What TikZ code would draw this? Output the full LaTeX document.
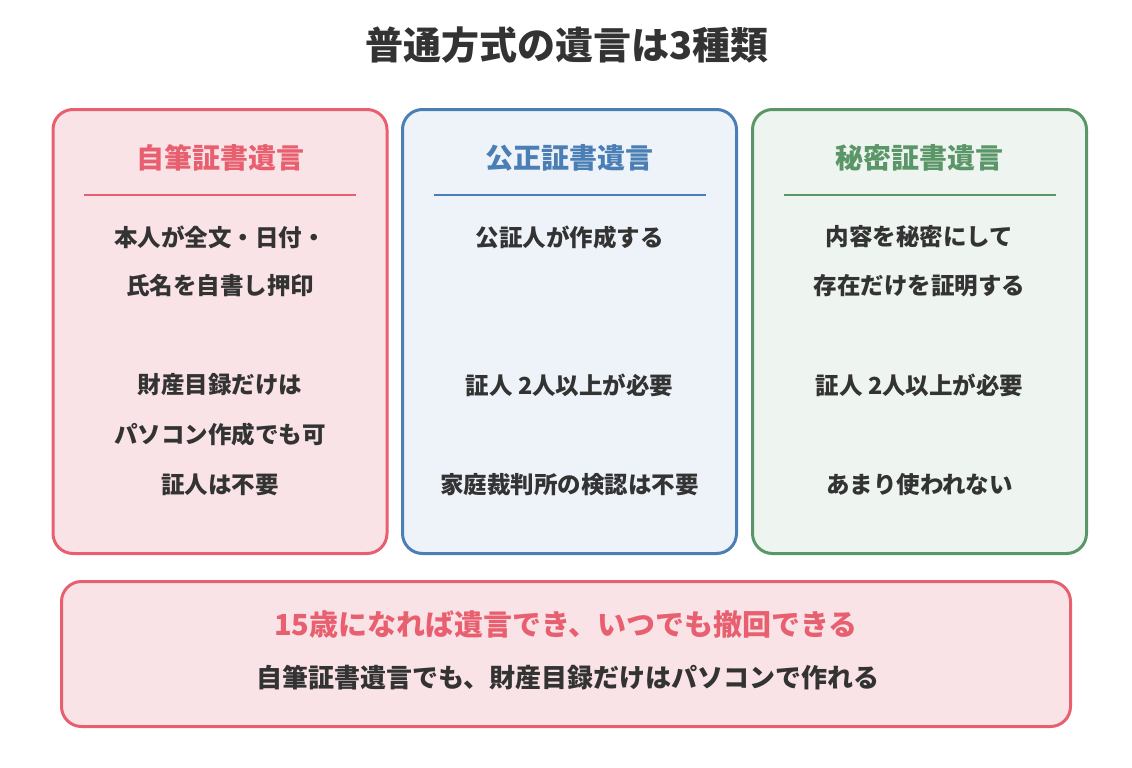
\documentclass[tikz,border=0pt]{standalone}
\usepackage{fontspec}
\setmainfont{Noto Sans CJK JP}
\definecolor{redline}{HTML}{E8606F}
\definecolor{redfill}{HTML}{FAE3E7}
\definecolor{blueline}{HTML}{4A7EB4}
\definecolor{bluefill}{HTML}{EEF3FA}
\definecolor{greenline}{HTML}{5B9669}
\definecolor{greenfill}{HTML}{EEF5F0}
\definecolor{ink}{HTML}{333333}
\begin{document}
\begin{tikzpicture}[x=1pt, y=-1pt,
  card/.style={draw, line width=3pt, rounded corners=20pt, minimum width=334pt, minimum height=444pt, inner sep=0pt},
  head/.style={font=\fontsize{28}{28}\selectfont\bfseries},
  body/.style={font=\fontsize{23.5}{24}\selectfont\bfseries, text=ink},
  rule/.style={line width=2.5pt}]
  \useasboundingbox (0,0) rectangle (1132,768);

  \node[font=\fontsize{38}{38}\selectfont\bfseries, text=ink] (title) at (567,45) {普通方式の遺言は3種類};

  \node[card, draw=redline, fill=redfill] (jihitsu) at (220,331.5) {};
  \node[card, draw=blueline, fill=bluefill] (kosei) at (569.5,331.5) {};
  \node[card, draw=greenline, fill=greenfill] (himitsu) at (919.5,331.5) {};

  \node[head, text=redline] (jhead) at (220,158) {自筆証書遺言};
  \node[head, text=blueline] (khead) at (569.5,158) {公正証書遺言};
  \node[head, text=greenline] (hhead) at (919.5,158) {秘密証書遺言};

  \coordinate (jl) at (84,195);   \coordinate (jr) at (356,195);
  \coordinate (kl) at (433.5,195); \coordinate (kr) at (705.5,195);
  \coordinate (hl) at (783.5,195); \coordinate (hr) at (1055.5,195);
  \draw[rule, redline] (jl) -- (jr);
  \draw[rule, blueline] (kl) -- (kr);
  \draw[rule, greenline] (hl) -- (hr);

  \node[body] (j1) at (220,237) {本人が全文・日付・};
  \node[body] (j2) at (220,286) {氏名を自書し押印};
  \node[body] (j3) at (220,385) {財産目録だけは};
  \node[body] (j4) at (220,435) {パソコン作成でも可};
  \node[body] (j5) at (220,485) {証人は不要};

  \node[body] (k1) at (569.5,237) {公証人が作成する};
  \node[body] (k2) at (569.5,385) {証人 2人以上が必要};
  \node[body] (k3) at (569.5,485) {家庭裁判所の検認は不要};

  \node[body] (h1) at (919.5,237) {内容を秘密にして};
  \node[body] (h2) at (919.5,286) {存在だけを証明する};
  \node[body] (h3) at (919.5,385) {証人 2人以上が必要};
  \node[body] (h4) at (919.5,485) {あまり使われない};

  \node[draw=redline, fill=redfill, line width=3pt, rounded corners=20pt, minimum width=1009pt, minimum height=145pt] (note) at (566,654) {};
  \node[font=\fontsize{29}{29}\selectfont\bfseries, text=redline] (note1) at (566,625) {15歳になれば遺言でき、いつでも撤回できる};
  \node[font=\fontsize{26}{26}\selectfont\bfseries, text=ink] (note2) at (568,678) {自筆証書遺言でも、財産目録だけはパソコンで作れる};
\end{tikzpicture}
\end{document}
